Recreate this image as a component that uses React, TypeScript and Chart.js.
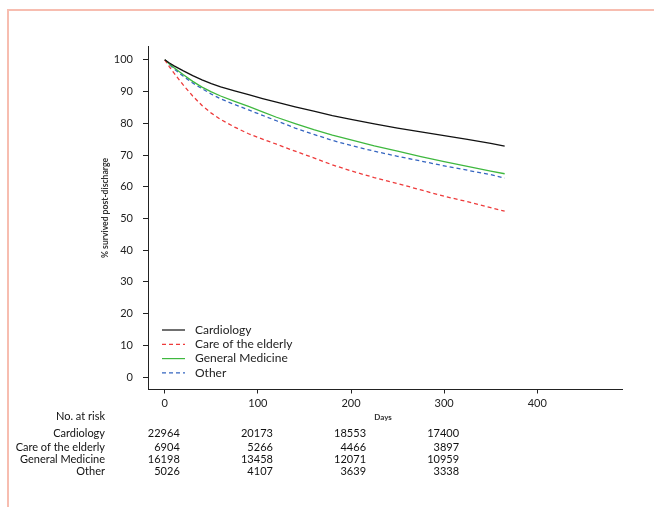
import React, { useEffect, useRef } from "react";
import { Chart, registerables } from "chart.js";

Chart.register(...registerables);

// Days since discharge at which survival was read
const days = [0, 5, 10, 20, 30, 40, 50, 60, 75, 90, 105, 120, 140, 160, 180, 200, 225, 250, 275, 300, 325, 350, 365];

const cardiology = [100, 99.0, 98.1, 96.5, 95.0, 93.7, 92.5, 91.5, 90.2, 89.0, 87.8, 86.7, 85.2, 83.8, 82.4, 81.2, 79.8, 78.5, 77.3, 76.1, 74.9, 73.7, 72.8];
const careElderly = [100, 97.8, 95.8, 92.0, 88.6, 85.6, 83.2, 81.2, 78.8, 76.7, 75.0, 73.4, 71.2, 69.1, 66.9, 65.0, 62.9, 61.0, 59.0, 57.0, 55.3, 53.4, 52.3];
const generalMedicine = [100, 98.7, 97.5, 95.3, 93.2, 91.4, 89.9, 88.6, 86.9, 85.3, 83.6, 81.9, 79.9, 78.0, 76.3, 74.8, 72.9, 71.2, 69.5, 67.9, 66.4, 64.9, 64.1];
const other = [100, 98.5, 97.1, 94.8, 92.7, 90.9, 89.2, 87.7, 85.9, 84.2, 82.5, 80.8, 78.5, 76.5, 74.6, 73.0, 71.2, 69.6, 68.1, 66.6, 65.2, 63.8, 62.7];

const seriesNames = ["Cardiology", "Care of the elderly", "General Medicine", "Other"];

// Number at risk table
const riskDays = [0, 100, 200, 300];
const riskCardiology = [22964, 20173, 18553, 17400];
const riskCareElderly = [6904, 5266, 4466, 3897];
const riskGeneralMedicine = [16198, 13458, 12071, 10959];
const riskOther = [5026, 4107, 3639, 3338];

const yTicks = [0, 10, 20, 30, 40, 50, 60, 70, 80, 90, 100];
const xTicks = [0, 100, 200, 300, 400];

const FONT = "Lato, 'Open Sans', sans-serif";

const extrasPlugin = {
  id: "extras",
  afterDraw(chart: any) {
    const ctx = chart.ctx;
    const area = chart.chartArea;
    const xs = chart.scales.x;
    ctx.save();

    // Y axis title
    ctx.save();
    ctx.translate(105.5, 208);
    ctx.rotate(-Math.PI / 2);
    ctx.fillStyle = "#333";
    ctx.font = `bold 8.6px ${FONT}`;
    ctx.textAlign = "center";
    ctx.textBaseline = "middle";
    ctx.fillText("% survived post-discharge", 0, 0);
    ctx.restore();

    // X axis title
    ctx.fillStyle = "#333";
    ctx.font = `bold 8px ${FONT}`;
    ctx.textAlign = "center";
    ctx.textBaseline = "middle";
    ctx.fillText("Days", 383, 417);

    // Legend
    const ds = chart.data.datasets;
    ctx.font = `12px ${FONT}`;
    for (let i = 0; i < ds.length; i++) {
      const y = 330 + i * 14.3;
      ctx.beginPath();
      ctx.setLineDash(ds[i].borderDash || []);
      ctx.strokeStyle = ds[i].borderColor;
      ctx.lineWidth = 1.2;
      ctx.moveTo(area.left + 14, y);
      ctx.lineTo(area.left + 37, y);
      ctx.stroke();
      ctx.setLineDash([]);
      ctx.fillStyle = "#222";
      ctx.textAlign = "left";
      ctx.textBaseline = "middle";
      ctx.fillText(ds[i].label, area.left + 47, y);
    }

    // Risk table
    ctx.fillStyle = "#111";
    ctx.font = `11px ${FONT}`;
    ctx.textAlign = "right";
    ctx.textBaseline = "middle";
    ctx.fillText("No. at risk", 105, 416);
    const rows = [riskCardiology, riskCareElderly, riskGeneralMedicine, riskOther];
    const rowY = [433.5, 447, 459.5, 471];
    for (let r = 0; r < rows.length; r++) {
      ctx.textAlign = "right";
      ctx.fillText(seriesNames[r], 105, rowY[r]);
      for (let c = 0; c < riskDays.length; c++) {
        const px = xs.getPixelForValue(riskDays[c]) + 15;
        ctx.fillText(String(rows[r][c]), px, rowY[r]);
      }
    }
    ctx.restore();
  },
};

export default function App() {
  const canvasRef = useRef<HTMLCanvasElement | null>(null);

  useEffect(() => {
    if (!canvasRef.current) return;
    const mk = (vals: number[]) => days.map((d, i) => ({ x: d, y: vals[i] }));
    const chart = new Chart(canvasRef.current, {
      type: "line",
      data: {
        datasets: [
          { label: seriesNames[0], data: mk(cardiology), borderColor: "#111111", borderWidth: 1.3, pointRadius: 0, tension: 0 },
          { label: seriesNames[1], data: mk(careElderly), borderColor: "#ee3b3b", borderWidth: 1.3, borderDash: [4, 3], pointRadius: 0, tension: 0 },
          { label: seriesNames[2], data: mk(generalMedicine), borderColor: "#3fb83f", borderWidth: 1.3, pointRadius: 0, tension: 0 },
          { label: seriesNames[3], data: mk(other), borderColor: "#3565c0", borderWidth: 1.3, borderDash: [4, 3], pointRadius: 0, tension: 0 },
        ],
      },
      options: {
        animation: false,
        responsive: true,
        maintainAspectRatio: false,
        layout: { padding: { left: 0, top: 46.5, right: 32, bottom: 97.5 } },
        plugins: { legend: { display: false }, tooltip: { enabled: false } },
        scales: {
          x: {
            type: "linear",
            min: -18,
            max: 491,
            afterFit: (s: any) => { s.height = 20; },
            afterBuildTicks: (s: any) => { s.ticks = xTicks.map((v) => ({ value: v })); },
            grid: { drawOnChartArea: false, drawTicks: true, tickLength: 4, color: "#222" },
            border: { display: true, color: "#222", width: 1 },
            ticks: { color: "#222", font: { size: 11, family: FONT }, padding: 3, maxRotation: 0 },
          },
          y: {
            type: "linear",
            min: -3.9,
            max: 104.2,
            afterFit: (s: any) => { s.width = 148; },
            afterBuildTicks: (s: any) => { s.ticks = yTicks.map((v) => ({ value: v })); },
            grid: { drawOnChartArea: false, drawTicks: true, tickLength: 5, color: "#222" },
            border: { display: true, color: "#222", width: 1 },
            ticks: { color: "#222", font: { size: 11, family: FONT }, padding: 10 },
          },
        },
      },
      plugins: [extrasPlugin],
    });
    return () => chart.destroy();
  }, []);

  return (
    <div style={{ position: "absolute", left: 0, top: 0, width: 654, height: 507, background: "#fff" }}>
      <div
        style={{
          position: "absolute",
          left: 7,
          top: 9,
          right: 0,
          bottom: 0,
          borderTop: "2px solid #f7bdb0",
          borderLeft: "2px solid #f7bdb0",
        }}
      />
      <canvas ref={canvasRef} style={{ position: "absolute", left: 0, top: 0 }} />
    </div>
  );
}
